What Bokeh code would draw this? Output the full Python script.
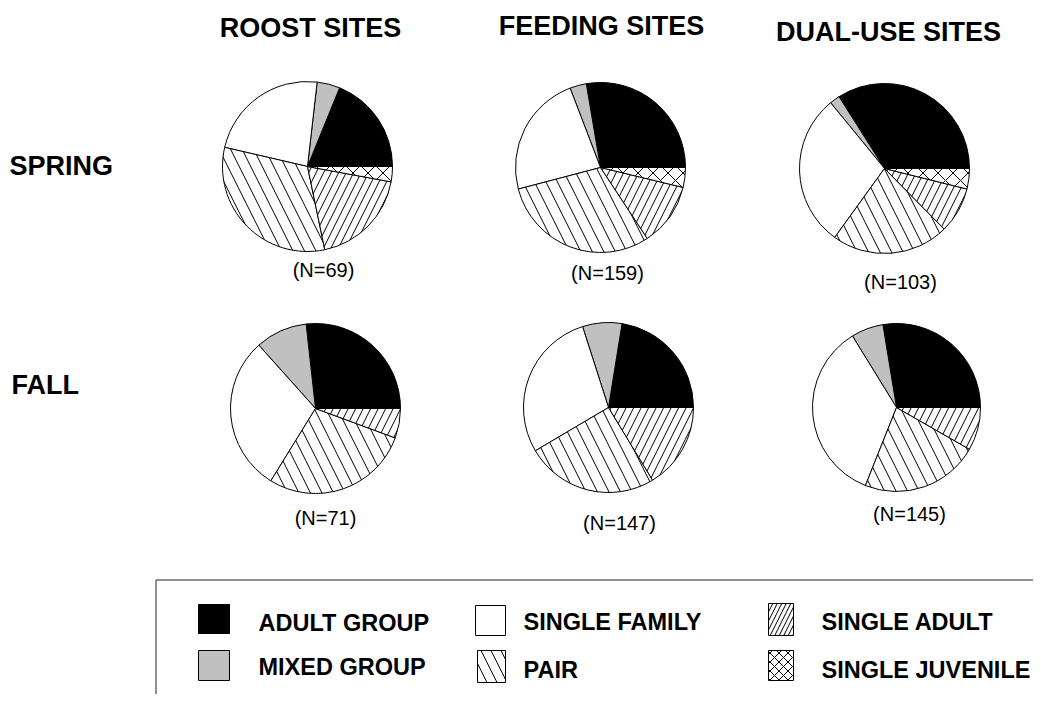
import numpy as np
from bokeh.plotting import figure
from bokeh.models import Range1d, ColumnDataSource
from bokeh.core.properties import value
from bokeh.embed import file_html
from bokeh.resources import INLINE

# ---------------- data ----------------
categories = ["ADULT GROUP", "MIXED GROUP", "SINGLE FAMILY", "PAIR", "SINGLE ADULT", "SINGLE JUVENILE"]
seasons = ["SPRING", "FALL"]
sites = ["ROOST SITES", "FEEDING SITES", "DUAL-USE SITES"]

spring_roost = [13, 3, 16, 22, 13, 2]
spring_feeding = [44, 5, 37, 48, 19, 6]
spring_dual = [35, 2, 30, 23, 9, 4]
fall_roost = [19, 7, 21, 20, 4, 0]
fall_feeding = [33, 11, 42, 37, 24, 0]
fall_dual = [40, 9, 51, 33, 12, 0]

# ---------------- styles ----------------
fill_colors = ["#000000", "#c0c0c0", "#ffffff", "#ffffff", "#ffffff", "#ffffff"]
hatches = [" ", " ", " ", "\\", "/", "x"]
pie_hatch_scale = [12, 12, 12, 23, 15, 15]
leg_hatch_scale = [12, 12, 12, 20, 9, 9]

W, H = 1033, 694
FONT = value("Liberation Sans")


def sx(v):  # screen x -> data x
    return v


def sy(v):  # screen y -> data y
    return H - v


p = figure(width=W, height=H, x_range=Range1d(0, W), y_range=Range1d(0, H),
           output_backend="svg", toolbar_location=None, min_border=0)
p.axis.visible = False
p.grid.visible = False
p.outline_line_color = None
p.background_fill_color = "white"
p.border_fill_color = "white"

grid = [[spring_roost, spring_feeding, spring_dual],
        [fall_roost, fall_feeding, fall_dual]]
centers = [[(307, 166), (600, 167), (884, 168)],
           [(315, 408), (608, 407), (896, 407)]]
radii = [[85, 85, 85], [85, 85, 84]]
nlabel_pos = [[(323, 269), (607, 272), (900, 281)],
              [(325, 517), (619, 522), (909, 513)]]

cols = dict(x=[], y=[], r=[], start=[], end=[], fill=[], hatch=[], hs=[])
nl = dict(x=[], y=[], t=[])
for i in range(2):
    for j in range(3):
        counts = np.array(grid[i][j], dtype=float)
        n = counts.sum()
        edges = np.concatenate([[0], np.cumsum(counts)]) / n * 2 * np.pi
        cx, cy = centers[i][j]
        for k in range(len(categories)):
            if counts[k] <= 0:
                continue
            cols["x"].append(sx(cx))
            cols["y"].append(sy(cy))
            cols["r"].append(radii[i][j])
            cols["start"].append(edges[k])
            cols["end"].append(edges[k + 1])
            cols["fill"].append(fill_colors[k])
            cols["hatch"].append(hatches[k])
            cols["hs"].append(pie_hatch_scale[k])
        lx, ly = nlabel_pos[i][j]
        nl["x"].append(sx(lx))
        nl["y"].append(sy(ly))
        nl["t"].append("(N=%d)" % int(n))

p.wedge(x="x", y="y", radius="r", start_angle="start", end_angle="end",
        fill_color="fill", hatch_pattern="hatch", hatch_scale="hs",
        hatch_color="black", hatch_weight=1, line_color="black", line_width=1,
        source=ColumnDataSource(cols))

p.text(x="x", y="y", text="t", source=ColumnDataSource(nl), text_font=FONT,
       text_font_size="20px", text_align="center", text_baseline="middle",
       text_color="black")

# column titles
title_pos = [(310, 27), (601, 25), (888, 31)]
p.text(x=[sx(a) for a, b in title_pos], y=[sy(b) for a, b in title_pos], text=sites,
       text_font=FONT, text_font_size="27px", text_font_style="bold",
       text_align="center", text_baseline="middle", text_color="black")

# row labels
row_pos = [(9, 165), (11, 384)]
p.text(x=[sx(a) for a, b in row_pos], y=[sy(b) for a, b in row_pos], text=seasons,
       text_font=FONT, text_font_size="27px", text_font_style="bold",
       text_align="left", text_baseline="middle", text_color="black")

# legend box
p.quad(left=[sx(155.5)], right=[sx(1200)], top=[sy(579.5)], bottom=[sy(800)],
       fill_color=None, line_color="#222222", line_width=1)

# legend swatches (left, top, right, bottom) in screen px
sw = [(198, 604, 229, 633), (198, 650, 229, 680), (475, 605, 505, 635),
      (477, 650, 505, 682), (768, 603, 793, 635), (768, 650, 793, 680)]
p.quad(left=[sx(s[0]) for s in sw], right=[sx(s[2]) for s in sw],
       top=[sy(s[1]) for s in sw], bottom=[sy(s[3]) for s in sw],
       fill_color=fill_colors, hatch_pattern=hatches, hatch_scale=leg_hatch_scale,
       hatch_color="black", hatch_weight=1, line_color="black", line_width=1)

leg_text_pos = [(258, 622), (258, 666), (523, 621), (523, 669), (821, 621), (821, 669)]
p.text(x=[sx(a) for a, b in leg_text_pos], y=[sy(b) for a, b in leg_text_pos],
       text=categories, text_font=FONT, text_font_size="23.5px", text_font_style="bold",
       text_align="left", text_baseline="middle", text_color="black")

open("out.html", "w").write(file_html(p, INLINE))
